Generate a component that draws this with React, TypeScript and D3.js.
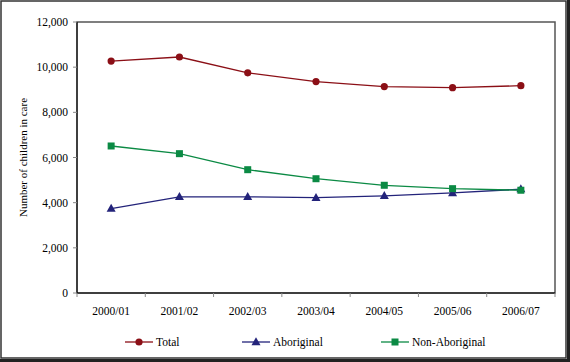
import React from "react";
import * as d3 from "d3";

const categories = ["2000/01", "2001/02", "2002/03", "2003/04", "2004/05", "2005/06", "2006/07"];
const totalValues = [10270, 10450, 9750, 9360, 9140, 9090, 9180];
const aboriginalValues = [3740, 4260, 4260, 4220, 4300, 4430, 4600];
const nonAboriginalValues = [6510, 6170, 5460, 5060, 4770, 4620, 4550];
const yTicks = [0, 2000, 4000, 6000, 8000, 10000, 12000];

const W = 570;
const H = 362;
const left = 77, right = 555, top = 22, bottom = 293;
const font = "'Liberation Serif', 'Times New Roman', serif";

const series = [
  { name: "Total", values: totalValues, color: "#8B0F16", marker: "circle", lx: 125 },
  { name: "Aboriginal", values: aboriginalValues, color: "#23237A", marker: "triangle", lx: 242 },
  { name: "Non-Aboriginal", values: nonAboriginalValues, color: "#0B8A44", marker: "square", lx: 381 },
];

function Marker({ type, x, y, color }: { type: string; x: number; y: number; color: string }) {
  if (type === "circle") return <circle cx={x} cy={y} r={3.6} fill={color} />;
  if (type === "square") return <rect x={x - 3.5} y={y - 3.5} width={7} height={7} fill={color} />;
  return <path d={`M${x},${y - 4.8}L${x + 4.5},${y + 3.2}L${x - 4.5},${y + 3.2}Z`} fill={color} />;
}

export default function App() {
  const x = d3.scaleBand<string>().domain(categories).range([left, right]);
  const y = d3.scaleLinear().domain([0, 12000]).range([bottom, top]);
  const fmt = d3.format(",");
  const cx = (c: string) => (x(c) as number) + x.bandwidth() / 2;
  const line = d3
    .line<number>()
    .x((_, i) => cx(categories[i]))
    .y((v) => y(v));

  return (
    <svg
      width={W}
      height={H}
      style={{ position: "absolute", left: 0, top: 0, display: "block", background: "#fff" }}
    >
      {/* outer frame */}
      <rect x={0} y={0} width={W} height={H} fill="#fff" />
      <rect x={1} y={1} width={565} height={357} fill="none" stroke="#333" strokeWidth={1.5} />
      <rect x={567} y={0} width={3} height={H} fill="#222" />
      <rect x={0} y={359} width={W} height={3} fill="#222" />

      {/* plot frame */}
      <rect x={left} y={top} width={right - left} height={bottom - top} fill="#fff" stroke="#555" strokeWidth={1.5} />
      <line x1={left} y1={top} x2={left} y2={bottom} stroke="#000" strokeWidth={1} />
      <line x1={left} y1={bottom} x2={right} y2={bottom} stroke="#000" strokeWidth={1} />

      {/* y axis */}
      {yTicks.map((t) => (
        <g key={t}>
          <line x1={left - 4} x2={left} y1={y(t)} y2={y(t)} stroke="#888" />
          <text
            x={left - 9}
            y={y(t)}
            dy="0.35em"
            textAnchor="end"
            fontFamily={font}
            fontSize={11.5}
            fill="#000"
          >
            {fmt(t)}
          </text>
        </g>
      ))}
      <text
        transform={`translate(23,${(top + bottom) / 2}) rotate(-90)`}
        textAnchor="middle"
        dy="0.35em"
        fontFamily={font}
        fontSize={11}
        fill="#000"
      >
        Number of children in care
      </text>

      {/* x axis */}
      {categories.map((c, i) => (
        <g key={c}>
          <line
            x1={(x(c) as number)}
            x2={(x(c) as number)}
            y1={bottom}
            y2={bottom + 4}
            stroke="#888"
          />
          <text x={cx(c)} y={311} dy="0.35em" textAnchor="middle" fontFamily={font} fontSize={11.5} fill="#000">
            {c}
          </text>
        </g>
      ))}
      <line x1={right} x2={right} y1={bottom} y2={bottom + 4} stroke="#888" />

      {/* series */}
      {series.map((s) => (
        <g key={s.name}>
          <path d={line(s.values) as string} fill="none" stroke={s.color} strokeWidth={1.3} />
          {s.values.map((v, i) => (
            <Marker key={i} type={s.marker} x={cx(categories[i])} y={y(v)} color={s.color} />
          ))}
        </g>
      ))}

      {/* legend */}
      {series.map((s) => (
        <g key={s.name}>
          <line x1={s.lx} x2={s.lx + 28} y1={342} y2={342} stroke={s.color} strokeWidth={1.3} />
          <Marker type={s.marker} x={s.lx + 14} y={342} color={s.color} />
          <text x={s.lx + 31} y={342} dy="0.35em" fontFamily={font} fontSize={11.5} fill="#000">
            {s.name}
          </text>
        </g>
      ))}
    </svg>
  );
}
